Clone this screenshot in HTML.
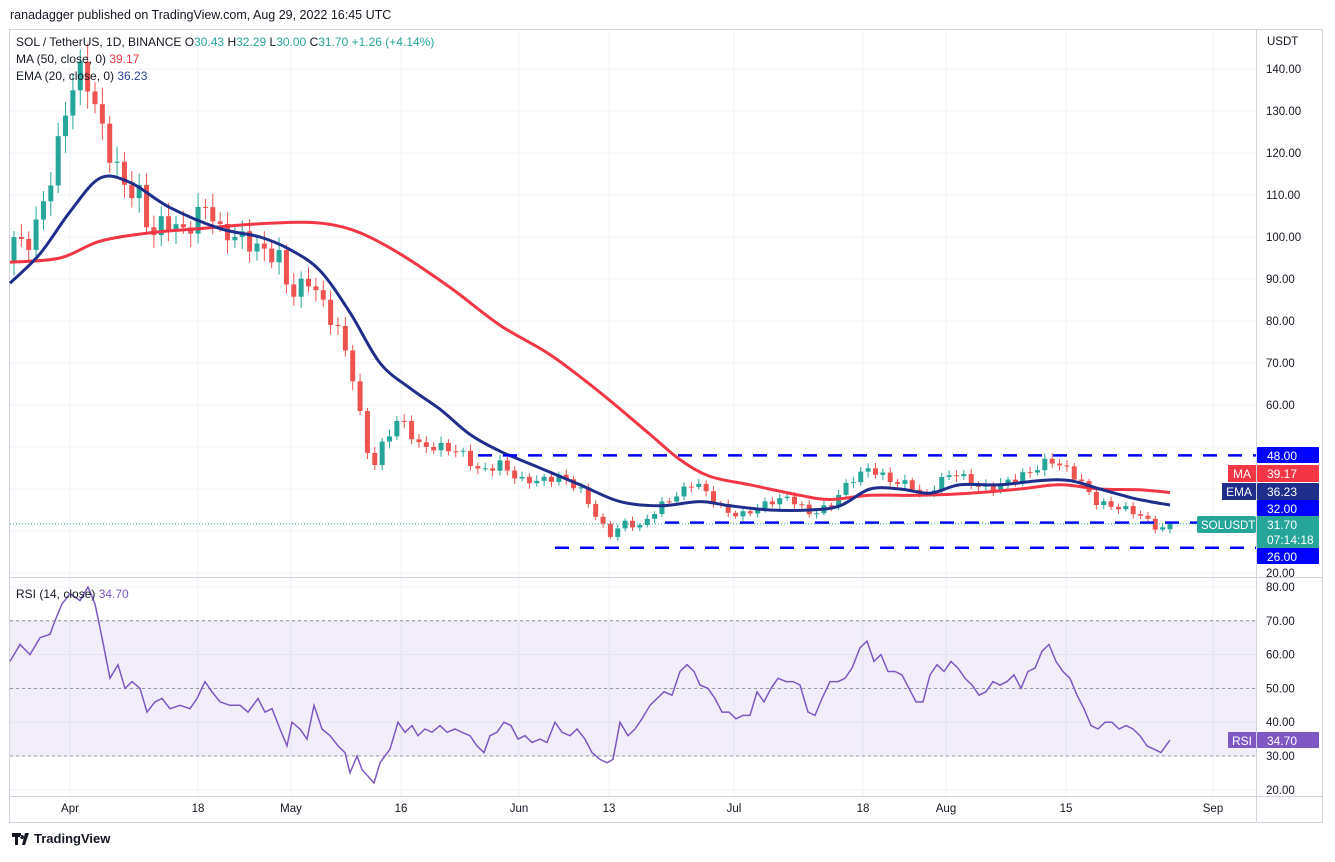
<!DOCTYPE html>
<html><head><meta charset="utf-8"><style>
body{margin:0;background:#fff;font-family:"Liberation Sans",sans-serif;}
svg text{font-family:"Liberation Sans",sans-serif;}
</style></head><body>
<svg id="s" width="1335" height="857" xmlns="http://www.w3.org/2000/svg">
<rect width="1335" height="857" fill="#fff"/>
<text x="10" y="19" font-size="12.5" fill="#131722">ranadagger published on TradingView.com, Aug 29, 2022 16:45 UTC</text>
<rect x="9.5" y="29.5" width="1313" height="793" fill="none" stroke="#d1d4dc"/>
<g id="grid"></g>
<g id="main"></g>
<line x1="10" y1="577.5" x2="1322" y2="577.5" stroke="#d1d4dc"/>
<line x1="1256.5" y1="30" x2="1256.5" y2="822" stroke="#d1d4dc"/>
<line x1="10" y1="796.5" x2="1322" y2="796.5" stroke="#d1d4dc"/>
<text x="16" y="46" font-size="12" fill="#131722">SOL / TetherUS, 1D, BINANCE  <tspan fill="#131722">O</tspan><tspan fill="#26a69a">30.43</tspan>  <tspan fill="#131722">H</tspan><tspan fill="#26a69a">32.29</tspan>  <tspan fill="#131722">L</tspan><tspan fill="#26a69a">30.00</tspan>  <tspan fill="#131722">C</tspan><tspan fill="#26a69a">31.70</tspan>  <tspan fill="#26a69a">+1.26 (+4.14%)</tspan></text>
<text x="16" y="63" font-size="12" fill="#131722">MA (50, close, 0)  <tspan fill="#f23645">39.17</tspan></text>
<text x="16" y="80" font-size="12" fill="#131722">EMA (20, close, 0)  <tspan fill="#2a3f9a">36.23</tspan></text>
<text x="16" y="598" font-size="12" fill="#131722">RSI (14, close)  <tspan fill="#7e57c2">34.70</tspan></text>
<text x="1267" y="45" font-size="11.5" fill="#131722">USDT</text>
<g id="labels"></g>
<text x="34" y="843" font-size="13" fill="#131722" font-weight="bold">TradingView</text>
<path d="M12 833h9v4h-3v8h-3v-8h-3z M22 835a2 2 0 1 0 0.1 0z M25 833h4l-4 12h-3z" fill="#131722"/>
</svg>
<script>
const NS="http://www.w3.org/2000/svg";
function el(p,t,a,txt){const e=document.createElementNS(NS,t);for(const k in a)e.setAttribute(k,a[k]);if(txt!==undefined)e.textContent=txt;p.appendChild(e);return e;}
const g=document.getElementById('grid'),m=document.getElementById('main'),L=document.getElementById('labels');
const py=p=>69+(140-p)*4.2, ry=r=>587+(80-r)*3.38;
for(let p=20;p<=140;p+=10){el(g,'line',{x1:10,x2:1256,y1:py(p),y2:py(p),stroke:'#f0f3fa'});}
for(let r=20;r<=80;r+=10){el(g,'line',{x1:10,x2:1256,y1:ry(r),y2:ry(r),stroke:'#f0f3fa'});}
const xl=[[70,'Apr'],[198,'18'],[291,'May'],[401,'16'],[519,'Jun'],[609,'13'],[734,'Jul'],[863,'18'],[946,'Aug'],[1066,'15'],[1213,'Sep']];
xl.forEach(([x,t])=>{el(g,'line',{x1:x,x2:x,y1:30,y2:796,stroke:'#f0f3fa'});el(L,'text',{x:x,y:812,'font-size':11.5,fill:'#131722','text-anchor':'middle'},t);});
for(let p=20;p<=140;p+=10){if(p==50)continue;el(L,'text',{x:1266,y:py(p)+4,'font-size':11.5,fill:'#131722'},p.toFixed(2));}
for(let r=20;r<=80;r+=10){el(L,'text',{x:1266,y:ry(r)+4,'font-size':11.5,fill:'#131722'},r.toFixed(2));}
el(m,'rect',{x:10,y:ry(70),width:1246,height:ry(30)-ry(70),fill:'rgba(126,87,194,0.1)'});
[70,50,30].forEach(r=>el(m,'line',{x1:10,x2:1256,y1:ry(r),y2:ry(r),stroke:'#787b86','stroke-dasharray':'3 3','stroke-width':0.8}));
function interp(pts,x){if(x<=pts[0][0])return pts[0][1];for(let i=1;i<pts.length;i++){if(x<=pts[i][0]){const a=pts[i-1],b=pts[i];return a[1]+(b[1]-a[1])*(x-a[0])/(b[0]-a[0]);}}return pts[pts.length-1][1];}
const cp=[[14,100],[25,97],[40,105],[55,118],[70,135],[80,139],[88,137],[100,127],[110,120],[125,112],[140,110],[150,100],[165,104],[185,101],[200,106],[208,108],[220,101],[240,100],[260,97],[280,95],[290,86],[310,90],[325,83],[340,77],[355,65],[365,50],[375,46],[385,52],[400,57],[420,50],[440,50],[460,49],[480,44],[500,46],[520,42],[540,42],[560,43],[580,40],[600,32],[610,29],[625,32],[640,31],[660,36],[680,39],[695,42],[710,38],[730,34],[745,34],[770,37],[790,38],[810,34],[830,36],[850,42],[870,45],[890,42],[910,41],[925,38],[940,42],[955,44],[975,41],[990,40],[1010,42],[1030,44],[1050,47],[1065,45],[1080,42],[1095,37],[1110,36],[1130,35],[1145,33],[1155,31],[1162,30.4],[1170,31.7]];
const N=158,dx=(1170-14)/157;let prev=94;
for(let i=0;i<N;i++){const x=14+i*dx;let c=interp(cp,x);const sc=Math.max(c*0.035,1);c+= (i<N-1)? Math.sin(i*2.3)*sc*0.6:0;
 const o=i==N-1?30.43:prev; const up=c>=o;const hi=Math.max(o,c)+sc*(0.4+0.5*Math.abs(Math.sin(i*1.7)));const lo=Math.min(o,c)-sc*(0.4+0.5*Math.abs(Math.cos(i*1.3)));
 const col=up?'#26a69a':'#ef5350';
 el(m,'line',{x1:x,x2:x,y1:py(hi),y2:py(lo),stroke:col,'stroke-width':1});
 const y1=py(Math.max(o,c)),y2=py(Math.min(o,c));el(m,'rect',{x:x-2.5,y:y1,width:5,height:Math.max(1,y2-y1),fill:col});prev=c;}
const ma=[[10,94],[60,95],[100,99],[150,101],[200,102],[250,103],[300,103.5],[330,103],[360,101],[400,96],[450,88],[500,79],[550,72],[600,63],[650,53],[680,47],[710,43],[750,41],[800,38.5],[830,37.5],[870,38.5],[920,38.5],[970,39],[1020,40],[1060,41],[1100,40],[1140,39.8],[1170,39.17]];
const ema=[[10,89],[40,96],[70,106],[100,114],[130,113],[170,107],[220,102],[260,100],[290,97],[320,92],[350,82],[380,70],[410,64],[440,59],[470,53],[500,49],[540,45],[580,41],[620,37],[660,36],[700,37],[730,36],[770,35],[810,35],[840,36],[870,40],[900,40],[930,39],[960,41],[1000,41],[1040,42],[1070,42],[1100,40],[1130,38],[1150,37],[1170,36.2]];
function smooth(pts,f){const P=pts.map(p=>[p[0],f(p[1])]);let d='M'+P[0][0]+' '+P[0][1].toFixed(1);
 for(let i=0;i<P.length-1;i++){const p0=P[Math.max(0,i-1)],p1=P[i],p2=P[i+1],p3=P[Math.min(P.length-1,i+2)];
 const c1=[p1[0]+(p2[0]-p0[0])/6,p1[1]+(p2[1]-p0[1])/6],c2=[p2[0]-(p3[0]-p1[0])/6,p2[1]-(p3[1]-p1[1])/6];
 d+='C'+c1[0].toFixed(1)+' '+c1[1].toFixed(1)+' '+c2[0].toFixed(1)+' '+c2[1].toFixed(1)+' '+p2[0]+' '+p2[1].toFixed(1);}return d;}
el(m,'path',{d:smooth(ma,py),fill:'none',stroke:'#f23645','stroke-width':3,'stroke-linejoin':'round'});
el(m,'path',{d:smooth(ema,py),fill:'none',stroke:'#1e2e8a','stroke-width':3,'stroke-linejoin':'round'});
[[478,48],[665,32],[555,26]].forEach(([x,p])=>el(m,'line',{x1:x,x2:1256,y1:py(p),y2:py(p),stroke:'#0000ff','stroke-width':2.5,'stroke-dasharray':'14 11'}));
el(m,'line',{x1:10,x2:1256,y1:py(31.7),y2:py(31.7),stroke:'#26a69a','stroke-width':1,'stroke-dasharray':'1 2'});
const rsi=[[10,58],[20,63],[30,60],[40,65],[50,66],[55,70],[62,75],[70,78],[80,76],[88,80],[95,75],[102,65],[110,53],[118,57],[125,50],[132,52],[140,50],[147,43],[155,46],[162,47],[170,44],[180,45],[190,44],[197,47],[205,52],[212,49],[220,46],[230,45],[240,45],[248,43],[258,47],[265,43],[272,44],[280,38],[287,33],[292,40],[300,38],[307,35],[314,45],[322,38],[330,36],[338,33],[345,31],[350,25],[357,30],[362,26],[368,24],[374,22],[380,28],[390,32],[398,40],[405,37],[412,39],[418,36],[425,38],[432,37],[440,39],[447,37],[455,38],[462,37],[470,36],[477,33],[484,31],[490,36],[497,37],[504,40],[511,39],[518,35],[525,36],[532,34],[540,35],[547,34],[555,40],[562,37],[570,36],[577,38],[585,35],[592,31],[600,29],[607,28],[613,29],[620,40],[628,36],[635,38],[642,41],[650,45],[657,47],[664,49],[672,48],[680,55],[687,57],[694,55],[700,51],[708,50],[715,47],[722,43],[729,43],[736,41],[743,42],[750,42],[757,49],[764,46],[771,50],[778,53],[786,52],[793,52],[800,51],[808,43],[815,42],[822,47],[830,52],[838,52],[845,53],[852,56],[860,62],[867,64],[874,58],[881,60],[888,55],[895,55],[902,54],[909,50],[916,46],[923,46],[930,54],[937,57],[944,55],[951,58],[958,56],[965,53],[972,51],[979,48],[986,49],[993,52],[1000,51],[1007,52],[1014,54],[1021,50],[1028,55],[1035,56],[1042,61],[1049,63],[1056,58],[1063,55],[1070,53],[1077,48],[1084,44],[1091,39],[1098,38],[1105,40],[1112,40],[1119,38],[1126,39],[1133,38],[1140,36],[1147,33],[1154,32],[1161,31],[1170,34.7]];
el(m,'path',{d:'M'+rsi.map(p=>p[0]+' '+ry(p[1]).toFixed(1)).join('L'),fill:'none',stroke:'#7e57c2','stroke-width':1.5});
function lab(y,h,fill,t,t2){el(L,'rect',{x:1257,y:y,width:62,height:h,fill:fill,rx:1});el(L,'text',{x:1267,y:y+13,'font-size':12,fill:'#fff'},t);if(t2)el(L,'text',{x:1267,y:y+28,'font-size':12,fill:'#fff'},t2);}
lab(447,16,'#0000ff','48.00');
lab(465,17,'#f23645','39.17');el(L,'rect',{x:1228,y:465,width:28,height:17,fill:'#f23645'});el(L,'text',{x:1233,y:478,'font-size':12,fill:'#fff'},'MA');
lab(483,17,'#1e2e8a','36.23');el(L,'rect',{x:1222,y:483,width:34,height:17,fill:'#1e2e8a'});el(L,'text',{x:1226,y:496,'font-size':12,fill:'#fff'},'EMA');
lab(500,16,'#0000ff','32.00');
lab(516,32,'#26a69a','31.70','07:14:18');
el(L,'rect',{x:1197,y:516,width:59,height:17,fill:'#26a69a',rx:2});el(L,'text',{x:1201,y:529,'font-size':11.5,fill:'#fff'},'SOLUSDT');
lab(548,16,'#0000ff','26.00');
lab(732,16,'#7e57c2','34.70');el(L,'rect',{x:1228,y:732,width:28,height:16,fill:'#7e57c2'});el(L,'text',{x:1232,y:745,'font-size':12,fill:'#fff'},'RSI');
</script>
</body></html>
